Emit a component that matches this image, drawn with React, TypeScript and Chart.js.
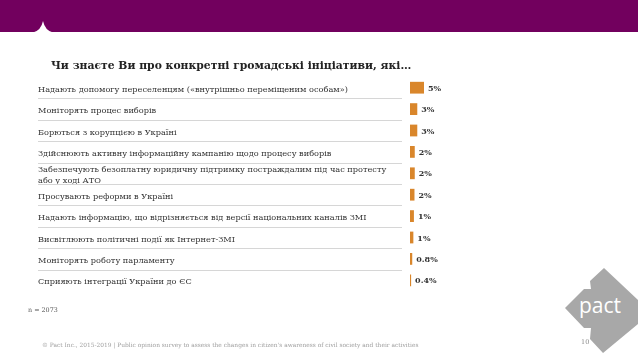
import React, { useEffect, useRef } from "react";
import { Chart, registerables } from "chart.js";

Chart.register(...registerables);

const categories: string[] = [
  "Надають допомогу переселенцям («внутрішньо переміщеним особам»)",
  "Моніторять процес виборів",
  "Борються з корупцією в Україні",
  "Здійснюють активну інформаційну кампанію щодо процесу виборів",
  "Забезпечують безоплатну юридичну підтримку постраждалим під час протесту\nабо у ході АТО",
  "Просувають реформи в Україні",
  "Надають інформацію, що відрізняється від версії національних каналів ЗМІ",
  "Висвітлюють політичні події як Інтернет-ЗМІ",
  "Моніторять роботу парламенту",
  "Сприяють інтеграції України до ЄС",
];

const values: number[] = [5.0, 2.6, 2.6, 1.7, 1.7, 1.6, 1.4, 1.2, 0.8, 0.4];
const valueLabels: string[] = ["5%", "3%", "3%", "2%", "2%", "2%", "1%", "1%", "0.8%", "0.4%"];

const titleText = "Чи знаєте Ви про конкретні громадські ініціативи, які…";
const sampleText = "n = 2073";
const footerText =
  "© Pact Inc., 2015-2019 | Public opinion survey to assess the changes in citizen's awareness of civil society and their activities";
const pageNumber = "10";

const ORANGE = "#d9862b";
const PURPLE = "#72005e";

export default function App() {
  const canvasRef = useRef<HTMLCanvasElement | null>(null);

  useEffect(() => {
    if (!canvasRef.current) return;
    const separatorPlugin = {
      id: "separators",
      beforeDatasetsDraw(chart: any) {
        const ctx = chart.ctx;
        const y = chart.scales.y;
        ctx.save();
        ctx.strokeStyle = "#d6d6d6";
        ctx.lineWidth = 1;
        for (let i = 0; i < categories.length - 1; i++) {
          const py = Math.round((y.getPixelForValue(i) + y.getPixelForValue(i + 1)) / 2) + 0.5;
          ctx.beginPath();
          ctx.moveTo(38, py);
          ctx.lineTo(402, py);
          ctx.stroke();
        }
        ctx.restore();
      },
    };
    const valuePlugin = {
      id: "values",
      afterDatasetsDraw(chart: any) {
        const ctx = chart.ctx;
        const meta = chart.getDatasetMeta(0);
        ctx.save();
        ctx.font = "bold 8px 'DejaVu Serif'";
        ctx.fillStyle = "#333333";
        ctx.textBaseline = "middle";
        ctx.textAlign = "left";
        meta.data.forEach((el: any, i: number) => {
          ctx.fillText(valueLabels[i], el.x + 4, el.y + 1);
        });
        ctx.restore();
      },
    };
    const chart = new Chart(canvasRef.current, {
      type: "bar",
      data: {
        labels: categories.map((c) => (c.includes("\n") ? c.split("\n") : c)),
        datasets: [
          {
            data: values,
            backgroundColor: ORANGE,
            borderWidth: 0,
            barPercentage: 0.55,
            categoryPercentage: 1,
          },
        ],
      },
      options: {
        indexAxis: "y",
        responsive: false,
        maintainAspectRatio: false,
        animation: false,
        layout: { padding: { left: 38, top: 77, bottom: 68, right: 172 } },
        plugins: {
          legend: { display: false },
          tooltip: { enabled: false },
          title: { display: false },
        },
        scales: {
          x: { display: false, min: 0, max: 20 },
          y: {
            position: "left",
            grid: { display: false },
            border: { display: false },
            ticks: {
              crossAlign: "far",
              padding: 0,
              labelOffset: 2,
              color: "#333333",
              font: { family: "'DejaVu Serif'", size: 8.2, lineHeight: 1.3 },
              autoSkip: false,
            },
            afterFit(scale: any) {
              scale.width = 372;
            },
          },
        },
      },
      plugins: [separatorPlugin, valuePlugin],
    } as any);
    return () => chart.destroy();
  }, []);

  return (
    <div
      style={{
        position: "absolute",
        left: 0,
        top: 0,
        width: 638,
        height: 359,
        overflow: "hidden",
        background: "#ffffff",
      }}
    >
      <div style={{ position: "absolute", left: 0, top: 0, width: 638, height: 32, background: PURPLE }} />
      <svg style={{ position: "absolute", left: 0, top: 0 }} width={638} height={359}>
        <path d="M33 32.5 Q41 30.5 43 21 Q45 30.5 53 32.5 Z" fill="#ffffff" />
        <polygon
          points="604,268 638,300 638,324 603,353 590,339 591,328 584,328 565,308 584,289 591,289 590,281"
          fill="#a8a8a8"
        />
        <text x={579} y={313} fill="#ffffff" style={{ font: "21px 'Open Sans'" }}>
          pact
        </text>
      </svg>
      <canvas ref={canvasRef} width={638} height={359} style={{ position: "absolute", left: 0, top: 0 }} />
      <div
        style={{
          position: "absolute",
          left: 51,
          top: 59,
          font: "bold 10.8px 'DejaVu Serif'",
          color: "#222222",
          whiteSpace: "nowrap",
        }}
      >
        {titleText}
      </div>
      <div
        style={{
          position: "absolute",
          left: 28,
          top: 306,
          font: "6.4px 'DejaVu Serif'",
          color: "#555555",
          whiteSpace: "nowrap",
        }}
      >
        {sampleText}
      </div>
      <div
        style={{
          position: "absolute",
          left: 42,
          top: 342,
          font: "5.9px 'DejaVu Serif'",
          color: "#a0a0a0",
          whiteSpace: "nowrap",
        }}
      >
        {footerText}
      </div>
      <div
        style={{
          position: "absolute",
          left: 581,
          top: 338,
          font: "6.5px 'DejaVu Serif'",
          color: "#888888",
          whiteSpace: "nowrap",
        }}
      >
        {pageNumber}
      </div>
    </div>
  );
}
